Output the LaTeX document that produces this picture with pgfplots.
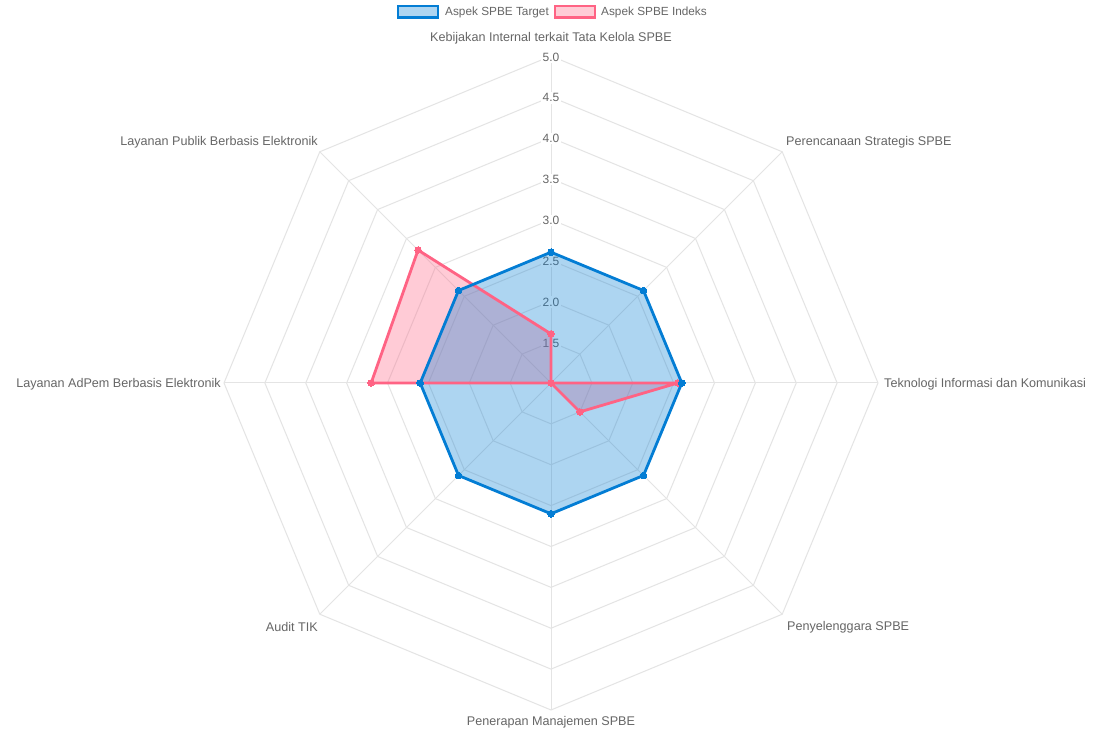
\documentclass[border=0pt]{standalone}
\usepackage{pgfplots}
\pgfplotsset{compat=1.18}
\usepackage{pgfplotstable}
\usepackage{fontspec}
\setmainfont{Liberation Sans}
\definecolor{bl}{RGB}{3,125,212}
\definecolor{pk}{RGB}{255,99,132}
\definecolor{gridc}{RGB}{228,228,228}
\definecolor{txt}{RGB}{102,102,102}
\tikzset{
  plab/.style={font=\fontsize{12.6}{15}\selectfont, text=txt},
  tlab/.style={font=\fontsize{12}{14}\selectfont, text=txt, fill=white, inner sep=1.5pt},
  llab/.style={font=\fontsize{11.8}{14}\selectfont, text=txt, anchor=west, inner sep=0pt}
}
% angle (deg), Aspek SPBE Target, Aspek SPBE Indeks (first row repeated to close)
\pgfplotstableread{
angle target indeks
90   2.6 1.6
45   2.6 0
0    2.6 2.55
-45  2.6 1.5
-90  2.6 0
-135 2.6 0
180  2.6 3.2
135  2.6 3.3
90   2.6 1.6
}\data
\pgfplotstableread{
angle one
90 1
45 1
0 1
-45 1
-90 1
-135 1
180 1
135 1
90 1
}\oct
\pgfplotstableread{
r one
0 1
1 1
}\spoke
\begin{document}
\begin{tikzpicture}
\begin{axis}[x=1pt,y=1pt,xmin=-551,xmax=551,ymin=-352,ymax=383,hide axis,clip=false]
\fill[white] (axis cs:-551,-352) rectangle (axis cs:551,383);
% radial spokes
\pgfplotsinvokeforeach{90,45,0,-45,-90,-135,180,135}{
  \addplot[gridc, line width=1pt, forget plot] table[x expr={cos(#1)*\thisrow{r}*327}, y expr={sin(#1)*\thisrow{r}*327}]{\spoke};
}
% octagonal grid rings
\pgfplotsinvokeforeach{1.5,2.0,2.5,3.0,3.5,4.0,4.5,5.0}{
  \addplot[gridc, line width=1pt, forget plot] table[x expr={cos(\thisrow{angle})*(#1-1)*81.75}, y expr={sin(\thisrow{angle})*(#1-1)*81.75}]{\oct};
}
% tick labels
\node[tlab] at (axis cs:0,39.875) {1.5};
\node[tlab] at (axis cs:0,80.75) {2.0};
\node[tlab] at (axis cs:0,121.625) {2.5};
\node[tlab] at (axis cs:0,162.5) {3.0};
\node[tlab] at (axis cs:0,203.375) {3.5};
\node[tlab] at (axis cs:0,244.25) {4.0};
\node[tlab] at (axis cs:0,285.125) {4.5};
\node[tlab] at (axis cs:0,326) {5.0};
% fills
\addplot[draw=none, fill=pk, fill opacity=0.33, forget plot] table[x expr={cos(\thisrow{angle})*max(\thisrow{indeks}-1,0)*81.75}, y expr={sin(\thisrow{angle})*max(\thisrow{indeks}-1,0)*81.75}]{\data};
\addplot[draw=none, fill=bl, fill opacity=0.32, forget plot] table[x expr={cos(\thisrow{angle})*max(\thisrow{target}-1,0)*81.75}, y expr={sin(\thisrow{angle})*max(\thisrow{target}-1,0)*81.75}]{\data};
% lines
\addplot[pk, line width=2.8pt, line join=round, mark=*, mark size=3.3pt, mark options={fill=pk, draw=pk, line width=0pt}] table[x expr={cos(\thisrow{angle})*max(\thisrow{indeks}-1,0)*81.75}, y expr={sin(\thisrow{angle})*max(\thisrow{indeks}-1,0)*81.75}]{\data};
\addplot[bl, line width=2.8pt, line join=round, mark=*, mark size=3.3pt, mark options={fill=bl, draw=bl, line width=0pt}] table[x expr={cos(\thisrow{angle})*max(\thisrow{target}-1,0)*81.75}, y expr={sin(\thisrow{angle})*max(\thisrow{target}-1,0)*81.75}]{\data};
% point labels
\node[plab] at (axis cs:0,344.5) {Kebijakan Internal terkait Tata Kelola SPBE};
\node[plab, anchor=west, inner sep=0pt] at (axis cs:235,240.5) {Perencanaan Strategis SPBE};
\node[plab, anchor=west, inner sep=0pt] at (axis cs:333,-1.5) {Teknologi Informasi dan Komunikasi};
\node[plab, anchor=west, inner sep=0pt] at (axis cs:236,-244.5) {Penyelenggara SPBE};
\node[plab] at (axis cs:0,-339.5) {Penerapan Manajemen SPBE};
\node[plab, anchor=east, inner sep=0pt] at (axis cs:-233,-244.5) {Audit TIK};
\node[plab, anchor=east, inner sep=0pt] at (axis cs:-330,-1.5) {Layanan AdPem Berbasis Elektronik};
\node[plab, anchor=east, inner sep=0pt] at (axis cs:-233,240.5) {Layanan Publik Berbasis Elektronik};
% legend
\draw[bl, line width=2.5pt, fill=bl!32] (axis cs:-153,365.5) rectangle (axis cs:-113,377);
\node[llab] at (axis cs:-106,371) {Aspek SPBE Target};
\draw[pk, line width=2.5pt, fill=pk!33] (axis cs:4,365.5) rectangle (axis cs:44,377);
\node[llab] at (axis cs:50,371) {Aspek SPBE Indeks};
\end{axis}
\end{tikzpicture}
\end{document}
